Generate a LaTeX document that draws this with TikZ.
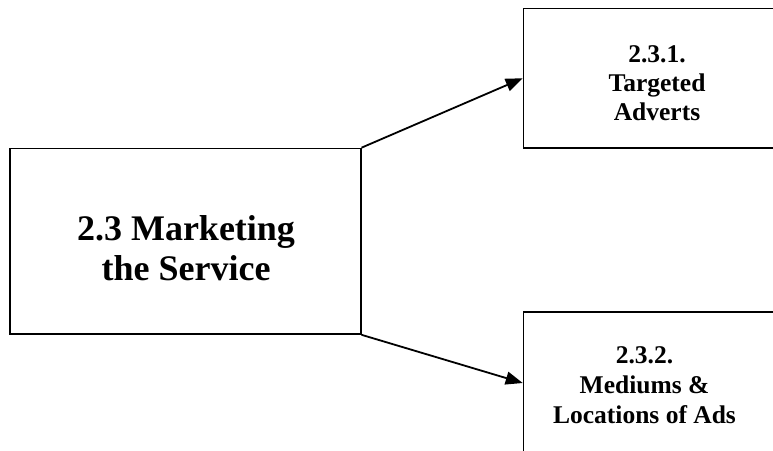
\documentclass[tikz,border=0pt]{standalone}
\usepackage{fontspec}
\setmainfont{Liberation Serif}
\usetikzlibrary{arrows.meta}
\begin{document}
\begin{tikzpicture}[x=1pt,y=-1pt,
  box/.style={draw=black,line width=1.6pt,fill=white,rectangle,inner sep=0pt},
  bigtext/.style={font=\fontsize{36}{40}\selectfont\bfseries,align=center,inner sep=0pt},
  smalltext/.style={font=\fontsize{25.5}{29.5}\selectfont\bfseries,align=center,inner sep=0pt},
  conn/.style={line width=1.8pt,-{Triangle[length=17pt,width=13pt]}}]
\useasboundingbox (0,0) rectangle (773,450);
\clip (0,0) rectangle (773,450);
\node[box,minimum width=350.7pt,minimum height=185.5pt] (main) at (185.35,241.25) {};
\node[box,minimum width=270pt,minimum height=139.5pt] (t1) at (658.5,78.25) {};
\node[box,minimum width=270pt,minimum height=142pt] (t2) at (658.5,383) {};
\node[bigtext,anchor=base] (mt1) at (186,240) {2.3 Marketing};
\node[bigtext,anchor=base] (mt2) at (186,280) {the Service};
\node[smalltext,anchor=base] (a1) at (657,62) {2.3.1.};
\node[smalltext,anchor=base] (a2) at (657,91) {Targeted};
\node[smalltext,anchor=base] (a3) at (657,120) {Adverts};
\node[smalltext,anchor=base] (b1) at (644.5,363) {2.3.2.};
\node[smalltext,anchor=base] (b2) at (644.5,393) {Mediums \&};
\node[smalltext,anchor=base] (b3) at (644.5,423) {Locations of Ads};
\draw[conn] (main.north east) -- (t1.west);
\draw[conn] (main.south east) -- (t2.west);
\end{tikzpicture}
\end{document}
